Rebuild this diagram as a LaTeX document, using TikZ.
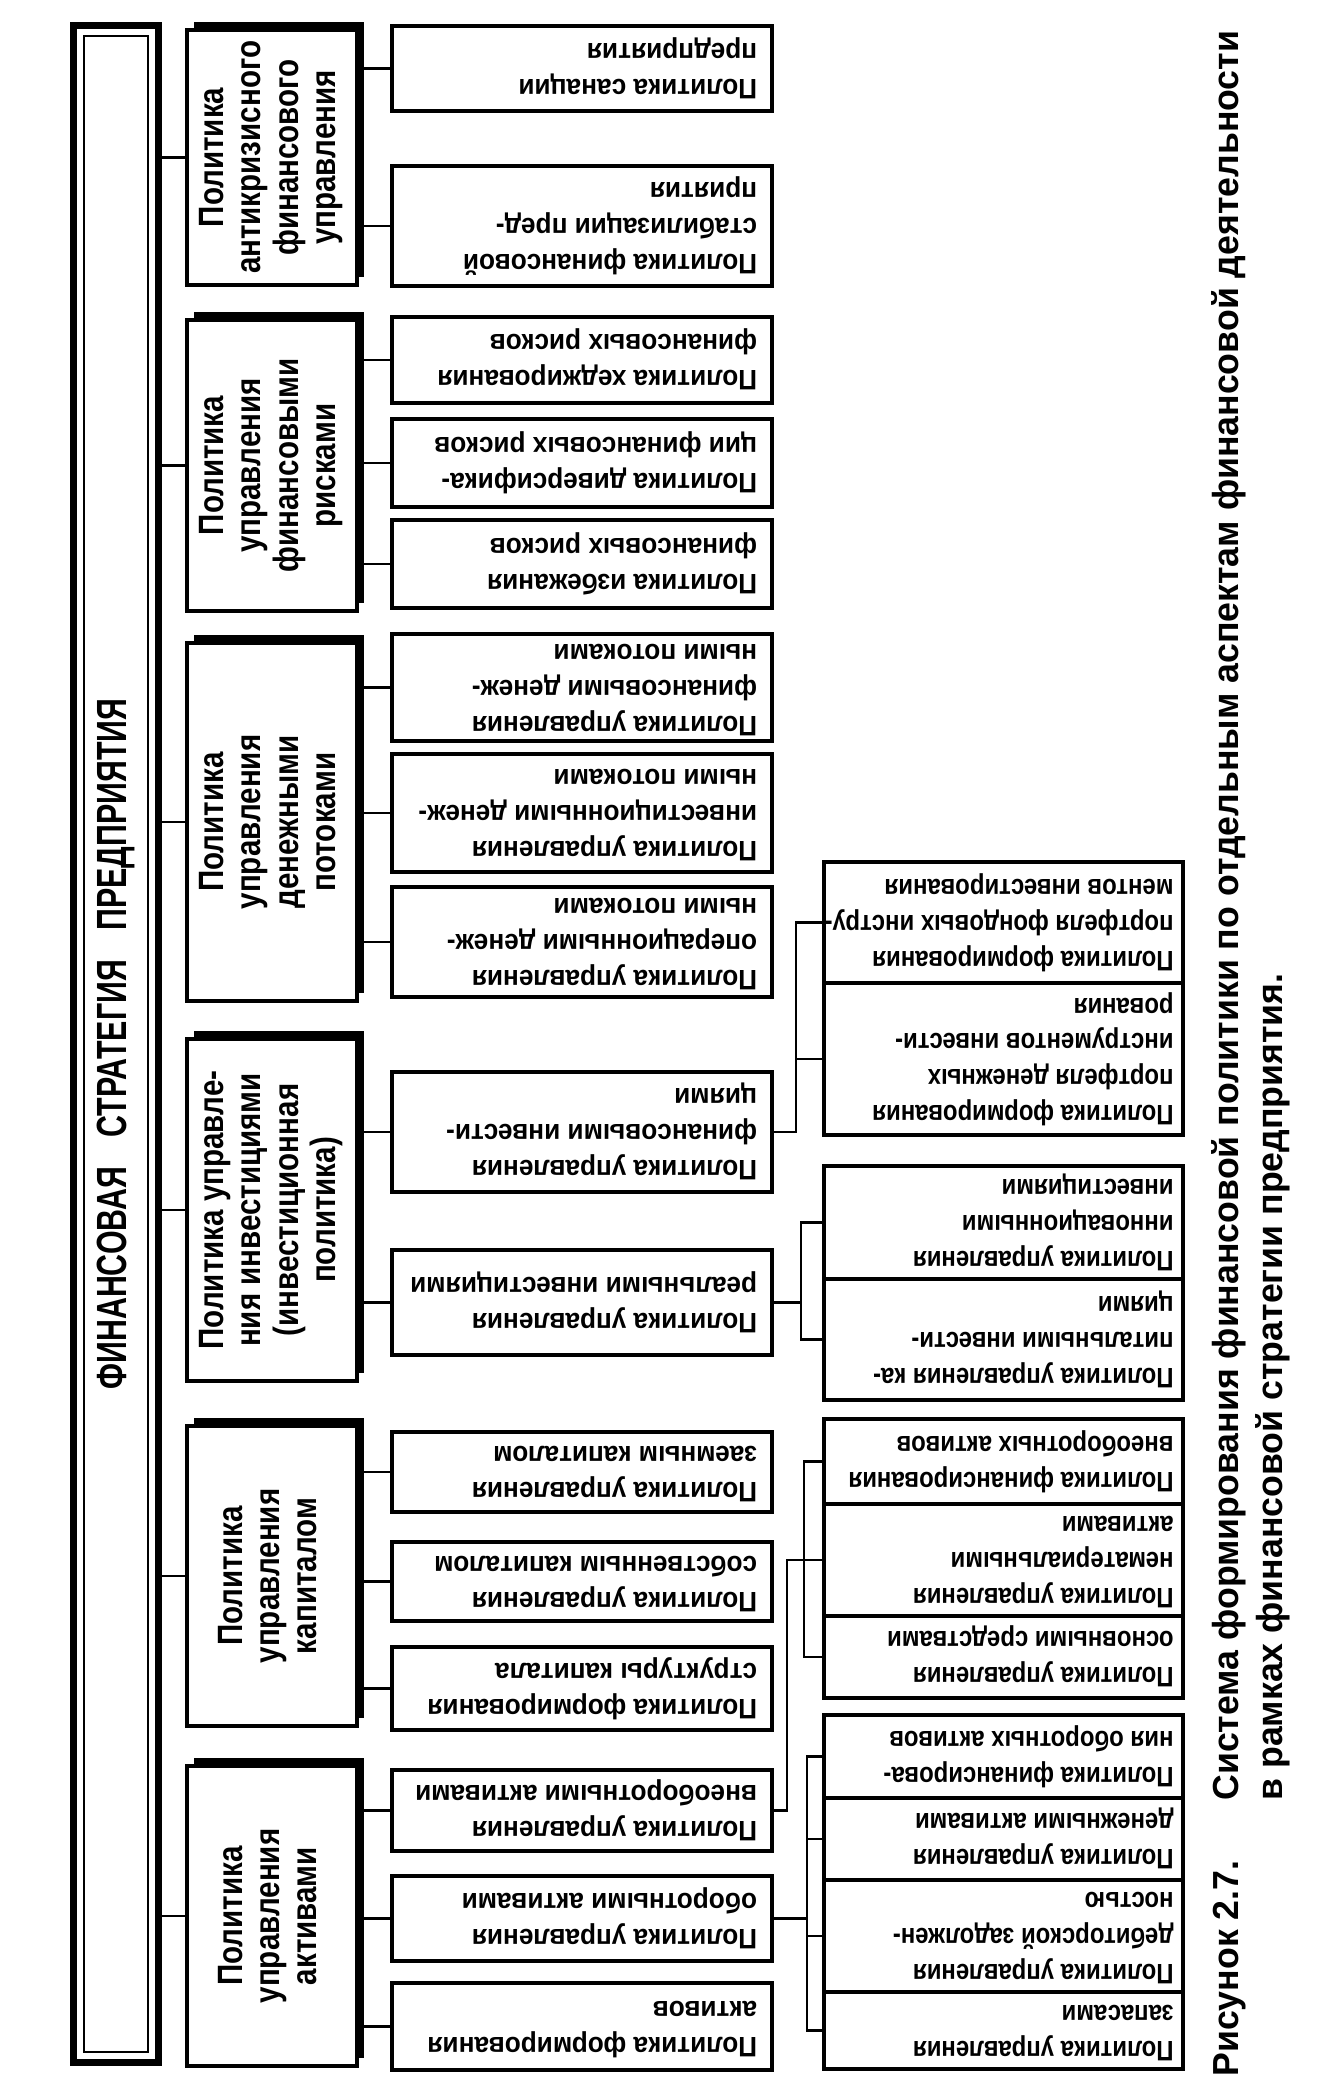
\documentclass[tikz,border=0pt]{standalone}
\usepackage{fontspec}
\setmainfont{Liberation Sans}
\newfontfamily\narrowsans[FakeStretch=0.84]{Liberation Sans}
\newfontfamily\titlesans[FakeStretch=0.72]{Liberation Sans}
\newfontfamily\boxsans[FakeStretch=0.93]{Liberation Sans}
\newfontfamily\subsans[FakeStretch=0.85]{Liberation Sans}
\newfontfamily\capsans[FakeStretch=0.985]{Liberation Sans}
\usetikzlibrary{shadows}

\newcommand{\flip}[2][3.5cm]{\rotatebox{180}{\makebox[#1][l]{\begin{tabular}{@{}l@{}}#2\end{tabular}}}}
\newcommand{\turn}[1]{\rotatebox{90}{\begin{tabular}{@{}c@{}}#1\end{tabular}}}

\begin{document}
\begin{tikzpicture}[
        x=0.01cm, y=-0.01cm,
        line width=0.8pt,
        rbox/.style={
            draw, line width=1.1pt, fill=white,
            inner sep=0pt, minimum width=3.8cm,
            font=\boxsans\fontsize{8}{10.2}\selectfont\bfseries
        },
        subbox/.style={rbox, minimum width=3.59cm, font=\subsans\fontsize{8}{10.2}\selectfont\bfseries},
        lbox/.style={
            draw, line width=1.2pt, fill=white,
            inner sep=0pt, minimum width=1.7cm,
            font=\narrowsans\fontsize{10}{10.6}\selectfont\bfseries,
            drop shadow={fill=black, opacity=1, shadow xshift=0.07cm, shadow yshift=0.08cm}
        }
    ]

        \useasboundingbox (0,0) rectangle (1333,2095);

        \node[draw, line width=2pt, inner sep=0pt, minimum width=0.85cm, minimum height=20.36cm,
            font=\titlesans\fontsize{12}{14}\selectfont\bfseries] (strat) at (116,1044)
            {\rotatebox{90}{ФИНАНСОВАЯ\hspace{0.7em}СТРАТЕГИЯ\hspace{0.7em}ПРЕДПРИЯТИЯ}};
        \draw[line width=0.5pt] ([shift={(14,14)}]strat.north west) rectangle ([shift={(-14,-14)}]strat.south east);

        \node[lbox, minimum height=2.55cm] (L1) at (272,157.5) {\turn{Политика\\антикризисного\\финансового\\управления}};
        \node[lbox, minimum height=2.91cm] (L2) at (272,465.5) {\turn{Политика\\управления\\финансовыми\\рисками}};
        \node[lbox, minimum height=3.58cm] (L3) at (272,822) {\turn{Политика\\управления\\денежными\\потоками}};
        \node[lbox, minimum height=3.42cm] (L4) at (272,1210) {\turn{Политика управле-\\ния инвестициями\\(инвестиционная\\политика)}};
        \node[lbox, minimum height=3.00cm] (L5) at (272,1576) {\turn{Политика\\управления\\капиталом}};
        \node[lbox, minimum height=3.00cm] (L6) at (272,1916) {\turn{Политика\\управления\\активами}};

        \node[rbox, minimum height=0.85cm] (r1) at (582,68.5) {\flip{Политика санации\\предприятия}};
        \node[rbox, minimum height=1.20cm] (r2) at (582,226) {\flip{Политика финансовой\\стабилизации пред-\\приятия}};
        \node[rbox, minimum height=0.86cm] (r3) at (582,360) {\flip{Политика хеджирования\\финансовых рисков}};
        \node[rbox, minimum height=0.88cm] (r4) at (582,463) {\flip{Политика диверсифика-\\ции финансовых рисков}};
        \node[rbox, minimum height=0.88cm] (r5) at (582,564) {\flip{Политика избежания\\финансовых рисков}};
        \node[rbox, minimum height=1.07cm] (r6) at (582,687.5) {\flip{Политика управления\\финансовыми денеж-\\ными потоками}};
        \node[rbox, minimum height=1.18cm] (r7) at (582,813) {\flip{Политика управления\\инвестиционными денеж-\\ными потоками}};
        \node[rbox, minimum height=1.10cm] (r8) at (582,942) {\flip{Политика управления\\операционными денеж-\\ными потоками}};
        \node[rbox, minimum height=1.20cm] (r9) at (582,1132) {\flip{Политика управления\\финансовыми инвести-\\циями}};
        \node[rbox, minimum height=1.05cm] (r10) at (582,1302.5) {\flip{Политика управления\\реальными инвестициями}};
        \node[rbox, minimum height=0.80cm] (r11) at (582,1472) {\flip{Политика управления\\заемным капиталом}};
        \node[rbox, minimum height=0.79cm] (r12) at (582,1581.5) {\flip{Политика управления\\собственным капиталом}};
        \node[rbox, minimum height=0.83cm] (r13) at (582,1688.5) {\flip{Политика формирования\\структуры капитала}};
        \node[rbox, minimum height=0.81cm] (r14) at (582,1810.5) {\flip{Политика управления\\внеоборотными активами}};
        \node[rbox, minimum height=0.85cm] (r15) at (582,1918.5) {\flip{Политика управления\\оборотными активами}};
        \node[rbox, minimum height=0.87cm] (r16) at (582,2026.5) {\flip{Политика формирования\\активов}};

        \node[subbox, minimum height=1.21cm] (fA1) at (1003.5,922.5) {\flip[3.4cm]{Политика формирования\\портфеля фондовых инстру-\\ментов инвестирования}};
        \node[subbox, minimum height=1.52cm] (fA2) at (1003.5,1059) {\flip[3.4cm]{Политика формирования\\портфеля денежных\\инструментов инвести-\\рования}};
        \node[subbox, minimum height=1.13cm] (fB1) at (1003.5,1222.5) {\flip[3.4cm]{Политика управления\\инновационными\\инвестициями}};
        \node[subbox, minimum height=1.21cm] (fB2) at (1003.5,1339.5) {\flip[3.4cm]{Политика управления ка-\\питальными инвести-\\циями}};
        \node[subbox, minimum height=0.85cm] (fC1) at (1003.5,1461.5) {\flip[3.4cm]{Политика финансирования\\внеоборотных активов}};
        \node[subbox, minimum height=1.12cm] (fC2) at (1003.5,1560) {\flip[3.4cm]{Политика управления\\нематериальными\\активами}};
        \node[subbox, minimum height=0.82cm] (fC3) at (1003.5,1657) {\flip[3.4cm]{Политика управления\\основными средствами}};
        \node[subbox, minimum height=0.83cm] (fD1) at (1003.5,1756.5) {\flip[3.4cm]{Политика финансирова-\\ния оборотных активов}};
        \node[subbox, minimum height=0.82cm] (fD2) at (1003.5,1839) {\flip[3.4cm]{Политика управления\\денежными активами}};
        \node[subbox, minimum height=1.12cm] (fD3) at (1003.5,1936) {\flip[3.4cm]{Политика управления\\дебиторской задолжен-\\ностью}};
        \node[subbox, minimum height=0.77cm] (fD4) at (1003.5,2030.5) {\flip[3.4cm]{Политика управления\\запасами}};

        \node[rotate=90, anchor=north west, inner sep=0pt, font=\capsans\fontsize{10.3}{12.5}\selectfont\bfseries] (caption) at (1206,2078)
            {\begin{tabular}{@{}l@{\hspace{0.6cm}}l@{}}
                Рисунок 2.7. & Система формирования финансовой политики по отдельным аспектам финансовой деятельности\\
                & в рамках финансовой стратегии предприятия.
            \end{tabular}};

        \foreach \n in {L1,L2,L3,L4,L5,L6}
            \draw (strat.east |- \n.west) -- (\n.west);
        \foreach \a/\b in {L1/r1,L1/r2,L2/r3,L2/r4,L2/r5,L3/r6,L3/r7,L3/r8,L4/r9,L4/r10,L5/r11,L5/r12,L5/r13,L6/r14,L6/r15,L6/r16}
            \draw (\a.east |- \b.west) -- (\b.west);

        \coordinate (jA) at (796,0);
        \coordinate (jB) at (801,0);
        \coordinate (jC) at (787,0);
        \coordinate (kC) at (804,0);
        \coordinate (jD) at (807,0);

        \draw (r9.east) -- (r9.east -| jA) |- (fA1.west);
        \draw (jA |- fA2.west) -- (fA2.west);
        \draw (r10.east) -- (r10.east -| jB);
        \draw (fB1.west) -| (jB |- fB2.west) -- (fB2.west);
        \draw (r14.east) -| (jC |- fC2.west) -- (fC2.west);
        \draw (fC1.west) -| (kC |- fC3.west) -- (fC3.west);
        \draw (r15.east) -- (r15.east -| jD);
        \draw (fD1.west) -| (jD |- fD4.west) -- (fD4.west);
        \draw (jD |- fD2.west) -- (fD2.west);
        \draw (jD |- fD3.west) -- (fD3.west);

    \end{tikzpicture}
\end{document}
